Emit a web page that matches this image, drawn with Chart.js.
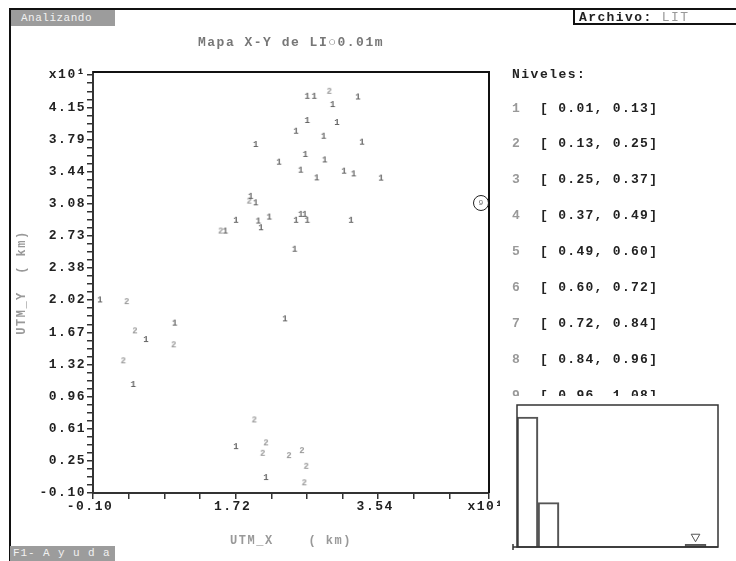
<!DOCTYPE html>
<html lang="es">
<head>
  <meta charset="UTF-8" />
  <title>Mapa X-Y de LI</title>
  <script src="https://cdn.jsdelivr.net/npm/chart.js"></script>
  <style>
    body { margin: 0; background: #fff; font-family: "Liberation Mono", monospace; }
    #screen { position: relative; width: 736px; height: 561px; overflow: hidden; background: #fff; }
    .abs { position: absolute; }
    #topLine { left: 9px; top: 8px; width: 727px; height: 2px; background: #111; }
    #leftLine { left: 9px; top: 8px; width: 2px; height: 553px; background: #111; }
    #busy { left: 11px; top: 10px; width: 94px; height: 16px; padding-left: 10px; background: #9c9c9c; color: #f2f2f2; font-size: 11px; line-height: 16px; letter-spacing: 0.5px; }
    #file { left: 573px; top: 10px; height: 15px; border-left: 2px solid #111; border-bottom: 2px solid #111; font-size: 13px; font-weight: bold; line-height: 16px; letter-spacing: 1.4px; color: #222; padding-left: 4px; box-sizing: border-box; width: 163px; }
    #file span { color: #999; font-weight: normal; }
    #help { left: 10px; top: 546px; width: 102px; height: 15px; padding-left: 3px; background: #9c9c9c; color: #f2f2f2; font-size: 11px; line-height: 15px; letter-spacing: 0.9px; }
    #niveles { left: 512px; top: 67px; font-size: 13px; font-weight: bold; line-height: 16px; letter-spacing: 1.5px; color: #222; }
    .row { font-size: 13px; font-weight: bold; line-height: 16px; letter-spacing: 1.3px; color: #222; white-space: pre; }
    .row b { color: #999; display: inline-block; width: 28px; }
    #mark { left: 473px; top: 195px; width: 14px; height: 14px; border: 1px solid #222; border-radius: 50%; font-size: 8px; line-height: 14px; text-align: center; color: #777; }
    canvas { position: absolute; }
  </style>
</head>
<body>
<div id="screen">
  <canvas id="mapa" width="736" height="561" style="left:0;top:0"></canvas>
  <div id="topLine" class="abs"></div>
  <div id="leftLine" class="abs"></div>
  <div id="busy" class="abs">Analizando</div>
  <div id="file" class="abs">Archivo: <span>LIT</span></div>
  <div id="niveles" class="abs">Niveles:</div>
  <div id="rows"></div>
  <div id="mark" class="abs">9</div>
  <canvas id="histo" width="236" height="166" style="left:500px;top:395px"></canvas>
  <div id="help" class="abs">F1- A y u d a</div>
</div>

<script>
  // puntos del mapa (UTM en km x10) y nivel de cada uno
  const mapX = [2.635, 2.724, 2.916, 3.282, 2.959, 2.635, 3.014, 2.491, 2.844, 3.333,
                1.977, 2.610, 2.274, 2.857, 2.551, 3.104, 3.227, 2.755, 3.576, 1.913,
                1.895, 1.977, 1.725, 2.010, 2.044, 2.150, 2.491, 2.551, 2.602, 2.635,
                3.193, 1.530, 1.589, 2.474, -0.011, 0.330, 0.943, 0.436, 0.576, 0.930,
                0.287, 0.414, 2.350, 1.959, 1.725, 2.108, 2.066, 2.402, 2.567, 2.622,
                2.108, 2.597];
  const mapY = [4.278, 4.278, 4.333, 4.270, 4.187, 4.011, 3.989, 3.893, 3.838, 3.772,
                3.747, 3.637, 3.552, 3.577, 3.464, 3.453, 3.423, 3.379, 3.376, 3.175,
                3.123, 3.104, 2.911, 2.903, 2.829, 2.947, 2.911, 2.977, 2.977, 2.911,
                2.911, 2.793, 2.793, 2.592, 2.034, 2.015, 1.778, 1.693, 1.597, 1.539,
                1.363, 1.102, 1.825, 0.711, 0.417, 0.458, 0.343, 0.318, 0.373, 0.200,
                0.076, 0.018];
  const mapLevel = [1,1,2,1,1,1,1,1,1,1, 1,1,1,1,1,1,1,1,1,1,
                    2,1,1,1,1,1,1,1,1,1, 1,2,1,1,1,2,1,2,1,2,
                    2,1,1,2,1,2,2,2,2,2, 1,2];

  // ejes
  const yLabels = ['-0.10','0.25','0.61','0.96','1.32','1.67','2.02','2.38','2.73','3.08','3.44','3.79','4.15','x10\u00b9'];
  const yFirst = -0.10, yStep = 0.3542, yMax = 4.54;
  const xLabels = ['-0.10','1.72','3.54'];
  const xFirst = -0.10, xStep = 1.82, xMax = 4.954, xEndLabel = 'x10\u00b9';

  // niveles
  const levelLow  = ['0.01','0.13','0.25','0.37','0.49','0.60','0.72','0.84','0.96'];
  const levelHigh = ['0.13','0.25','0.37','0.49','0.60','0.72','0.84','0.96','1.08'];

  // histograma (cuentas por nivel)
  const histLevel = [1, 2, 9];
  const histCount = [38, 13, 0.8];
  const markerLevel = 9;
  const markerValue = 3;

  const FONT = '"Liberation Mono", "DejaVu Sans Mono", monospace';

  // lista de niveles a la derecha
  const rowsDiv = document.getElementById('rows');
  levelLow.forEach((lo, i) => {
    const d = document.createElement('div');
    d.className = 'abs row';
    d.style.left = '512px';
    d.style.top = (100.5 + i * 35.9) + 'px';
    d.innerHTML = '<b>' + (i + 1) + '</b>[ ' + lo + ', ' + levelHigh[i] + ']';
    rowsDiv.appendChild(d);
  });

  function digitImg(txt, color) {
    const c = document.createElement('canvas');
    c.width = 8; c.height = 10;
    const g = c.getContext('2d');
    g.font = 'bold 9px ' + FONT;
    g.fillStyle = color;
    g.textAlign = 'center';
    g.textBaseline = 'middle';
    g.fillText(txt, 4, 5.5);
    return c;
  }

  function pointsOf(level) {
    const pts = [];
    mapX.forEach((x, i) => { if (mapLevel[i] === level) pts.push({ x: x, y: mapY[i] }); });
    return pts;
  }

  // ticks menores: 4 por cada etiqueta
  function yTicks() {
    const t = [];
    yLabels.forEach((lab, i) => {
      for (let k = 0; k < 4; k++) {
        const v = yFirst + (i + k / 4) * yStep;
        if (v <= yMax) t.push({ value: v, label: k === 0 ? lab : '' });
      }
    });
    return t;
  }
  function xTicks() {
    const t = [];
    for (let j = 0; ; j++) {
      const v = xFirst + j * xStep / 4;
      if (v > xMax - 0.05) break;
      t.push({ value: v, label: j % 4 === 0 ? (xLabels[j / 4] || '') : '' });
    }
    t.push({ value: xMax, label: xEndLabel });
    return t;
  }
  const yT = yTicks(), xT = xTicks();

  const dosText = { id: 'dosText', beforeDraw(c) { c.ctx.letterSpacing = '1.5px'; } };
  const plotFrame = {
    id: 'plotFrame',
    afterDraw(c) {
      const a = c.chartArea, ctx = c.ctx;
      ctx.save();
      ctx.strokeStyle = '#111';
      ctx.lineWidth = 2;
      ctx.beginPath();
      ctx.moveTo(a.left, a.top); ctx.lineTo(a.right, a.top); ctx.lineTo(a.right, a.bottom);
      ctx.stroke();
      ctx.restore();
    }
  };

  new Chart(document.getElementById('mapa'), {
    type: 'scatter',
    data: {
      datasets: [
        { label: '1', data: pointsOf(1), pointStyle: digitImg('1', '#666'), pointRadius: 3 },
        { label: '2', data: pointsOf(2), pointStyle: digitImg('2', '#9a9a9a'), pointRadius: 3 }
      ]
    },
    options: {
      responsive: false,
      animation: false,
      layout: { padding: { top: 28, right: 247, bottom: 0, left: 0 } },
      plugins: {
        legend: { display: false },
        tooltip: { enabled: false },
        title: {
          display: true, fullSize: false,
          text: 'Mapa X-Y de LI\u25cb0.01m',
          color: '#777',
          font: { family: FONT, size: 13, weight: 'bold' },
          padding: { top: 7, bottom: 21.4 }
        }
      },
      scales: {
        x: {
          type: 'linear', min: xFirst, max: xMax,
          afterBuildTicks: s => { s.ticks = xT.map(t => ({ value: t.value })); },
          afterFit: s => { s.height = 68; },
          ticks: {
            autoSkip: false, maxRotation: 0, minRotation: 0, padding: 0, labelOffset: -3,
            color: '#222', font: { family: FONT, size: 13, weight: 'bold' },
            callback: (v, i) => xT[i] ? xT[i].label : ''
          },
          grid: { drawOnChartArea: false, tickLength: 6, color: '#333', lineWidth: 1.5 },
          border: { color: '#333', width: 2 },
          title: {
            display: true, text: 'UTM_X    ( km)', color: '#999',
            font: { family: FONT, size: 12, weight: 'bold' }, padding: { top: 0, bottom: 13 }
          }
        },
        y: {
          type: 'linear', min: yFirst, max: yMax,
          afterBuildTicks: s => { s.ticks = yT.map(t => ({ value: t.value })); },
          afterFit: s => { s.width = 93; },
          ticks: {
            autoSkip: false, padding: 1,
            color: '#222', font: { family: FONT, size: 13, weight: 'bold' },
            callback: (v, i) => yT[i] ? yT[i].label : ''
          },
          grid: { drawOnChartArea: false, tickLength: 6, color: '#333', lineWidth: 1.5 },
          border: { color: '#333', width: 2 },
          title: {
            display: true, text: 'UTM_Y  ( km)', color: '#999',
            font: { family: FONT, size: 12, weight: 'bold' }, padding: { top: 15, bottom: 0 }
          }
        }
      }
    },
    plugins: [dosText, plotFrame]
  });

  // caja del histograma (con margen blanco que tapa la fila 9)
  const histoBox = {
    id: 'histoBox',
    beforeDraw(c) {
      const a = c.chartArea, ctx = c.ctx;
      ctx.save();
      ctx.fillStyle = '#fff';
      ctx.fillRect(0, a.top - 9, c.width, c.height - a.top + 9);
      ctx.restore();
    },
    afterDraw(c) {
      const a = c.chartArea, ctx = c.ctx;
      ctx.save();
      ctx.strokeStyle = '#333';
      ctx.lineWidth = 1.5;
      ctx.strokeRect(a.left, a.top, a.right - a.left, a.bottom - a.top);
      ctx.beginPath();
      ctx.moveTo(a.left - 4, a.bottom); ctx.lineTo(a.right, a.bottom);
      ctx.moveTo(a.left - 4, a.bottom - 3); ctx.lineTo(a.left - 4, a.bottom + 3);
      ctx.stroke();
      ctx.restore();
    }
  };

  new Chart(document.getElementById('histo'), {
    type: 'bar',
    data: {
      datasets: [
        {
          type: 'scatter',
          data: [{ x: markerLevel - 0.5, y: markerValue }],
          pointStyle: 'triangle', rotation: 180, pointRadius: 5,
          borderColor: '#555', backgroundColor: '#fff', borderWidth: 1
        },
        {
          data: histLevel.map((l, i) => ({ x: l - 0.5, y: histCount[i] })),
          backgroundColor: histLevel.map(l => l === markerLevel ? '#666' : 'rgba(0,0,0,0)'),
          borderColor: '#555', borderWidth: 1.5,
          barPercentage: 1, categoryPercentage: 1
        }
      ]
    },
    options: {
      responsive: false,
      animation: false,
      layout: { padding: { left: 17, top: 10, right: 18, bottom: 14 } },
      plugins: { legend: { display: false }, tooltip: { enabled: false } },
      scales: {
        x: { type: 'linear', min: 0, max: 9.57, offset: false, display: false },
        y: { min: 0, max: 41.5, display: false }
      }
    },
    plugins: [histoBox]
  });
</script>
</body>
</html>
